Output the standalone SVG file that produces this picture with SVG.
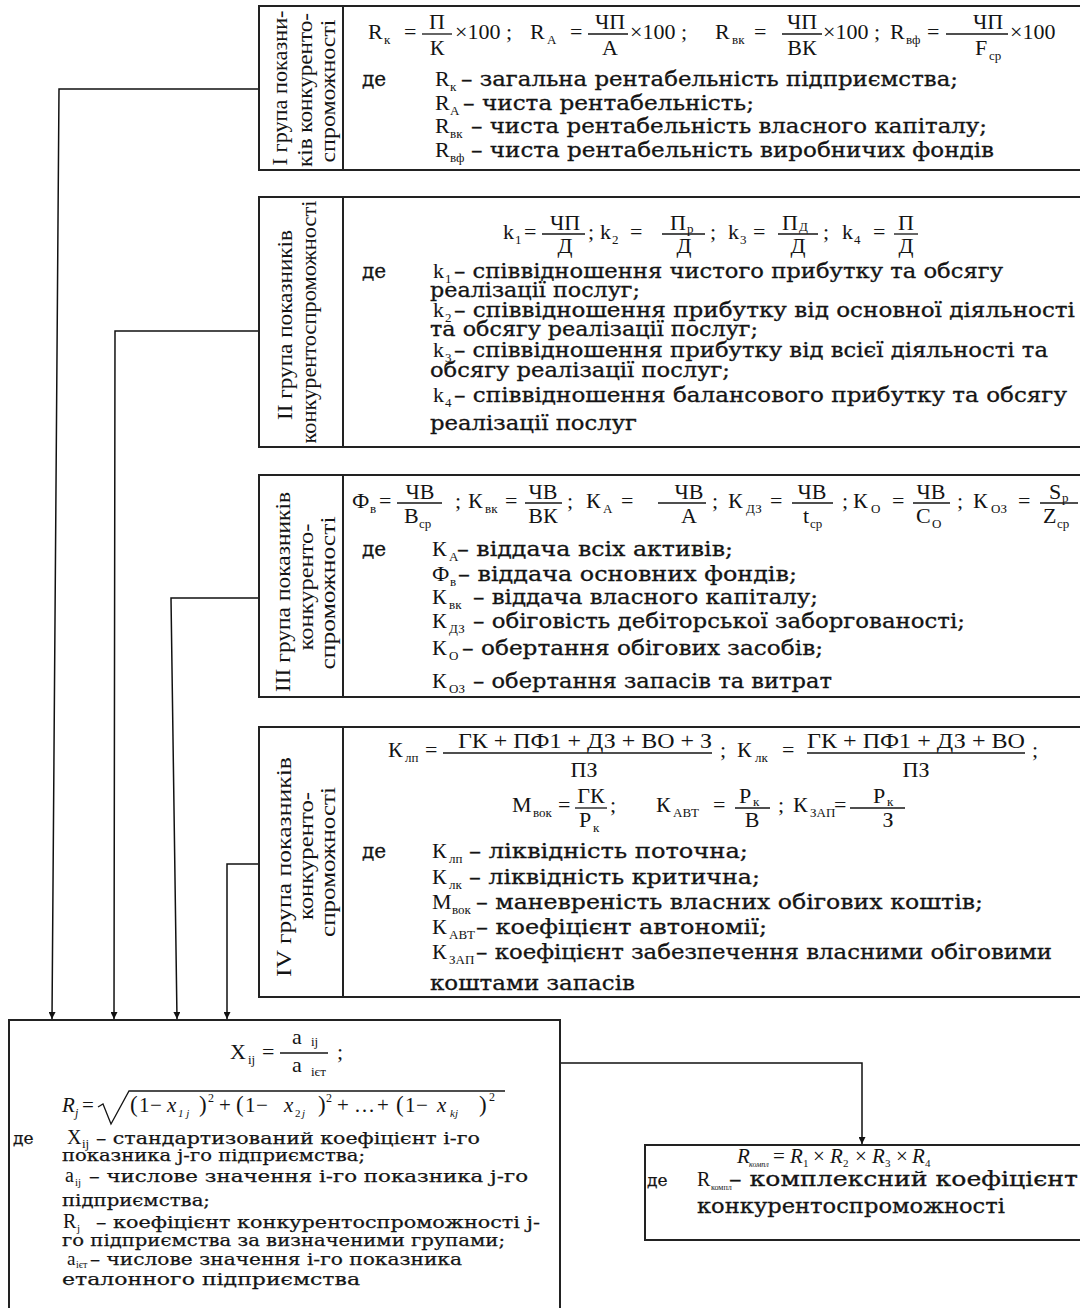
<svg xmlns="http://www.w3.org/2000/svg" width="1080" height="1308" viewBox="0 0 1080 1308">
<style>
.t{font-family:"Liberation Serif","Times New Roman",serif;fill:#141414}
.m{font-size:22px}
.ms{font-size:13px}
.d{font-family:"DejaVu Serif","Liberation Serif",serif;font-size:20px;stroke:#141414;stroke-width:0.3}
.v{font-size:21px}
.e{font-family:"DejaVu Serif","Liberation Serif",serif;font-size:17px;stroke:#141414;stroke-width:0.25}
.it{font-style:italic}
.box{fill:#fff;stroke:#222;stroke-width:2}
.div{stroke:#222;stroke-width:2}
.bar{stroke:#141414;stroke-width:1.3}
.ln{fill:none;stroke:#111;stroke-width:1.5}
</style>
<defs>
<marker id="arr" viewBox="0 0 10 10" refX="10" refY="5" markerWidth="9" markerHeight="7" markerUnits="userSpaceOnUse" orient="auto">
<path d="M0,0 L10,5 L0,10 z" fill="#111"/>
</marker>
</defs>
<rect width="1080" height="1308" fill="#fff"/>

<g id="connectors">
<path class="ln" d="M259,89 H59 L52,1019" marker-end="url(#arr)"/>
<path class="ln" d="M259,331 H115 L114,1019" marker-end="url(#arr)"/>
<path class="ln" d="M259,598 H171 L177,1019" marker-end="url(#arr)"/>
<path class="ln" d="M259,864 H227 V1019" marker-end="url(#arr)"/>
<path class="ln" d="M560,1063 H862 V1144" marker-end="url(#arr)"/>
</g>

<g id="group1">
<rect class="box" x="259" y="6" width="830" height="164"/>
<line class="div" x1="343" y1="6" x2="343" y2="170"/>
<text class="t v" transform="translate(287,88) rotate(-90)" text-anchor="middle" textLength="155" lengthAdjust="spacingAndGlyphs">І група показни-</text>
<text class="t v" transform="translate(312,90) rotate(-90)" text-anchor="middle" textLength="154" lengthAdjust="spacingAndGlyphs">ків конкуренто-</text>
<text class="t v" transform="translate(335,91) rotate(-90)" text-anchor="middle" textLength="143" lengthAdjust="spacingAndGlyphs">спроможності</text>
<text class="t m" x="368" y="39">R</text><text class="t ms" x="384" y="44">к</text>
<text class="t m" x="404" y="39">=</text>
<line class="bar" x1="422" y1="34" x2="452" y2="34"/>
<text class="t m" x="437" y="29" text-anchor="middle">П</text>
<text class="t m" x="437" y="55" text-anchor="middle">К</text>
<text class="t m" x="455" y="39">×100 ;</text>
<text class="t m" x="530" y="39">R</text><text class="t ms" x="547" y="44">А</text>
<text class="t m" x="570" y="39">=</text>
<line class="bar" x1="588" y1="34" x2="628" y2="34"/>
<text class="t m" x="610" y="29" text-anchor="middle">ЧП</text>
<text class="t m" x="610" y="55" text-anchor="middle">А</text>
<text class="t m" x="630" y="39">×100 ;</text>
<text class="t m" x="715" y="39">R</text><text class="t ms" x="732" y="44">вк</text>
<text class="t m" x="754" y="39">=</text>
<line class="bar" x1="782" y1="34" x2="822" y2="34"/>
<text class="t m" x="802" y="29" text-anchor="middle">ЧП</text>
<text class="t m" x="802" y="55" text-anchor="middle">ВК</text>
<text class="t m" x="823" y="39">×100 ;</text>
<text class="t m" x="890" y="39">R</text><text class="t ms" x="906" y="44">вф</text>
<text class="t m" x="927" y="39">=</text>
<line class="bar" x1="946" y1="34" x2="1008" y2="34"/>
<text class="t m" x="988" y="29" text-anchor="middle">ЧП</text>
<text class="t m" x="975" y="55">F</text><text class="t ms" x="989" y="60">ср</text>
<text class="t m" x="1010" y="39">×100</text>
<text class="t d" x="362" y="86">де</text>
<text class="t m" x="435" y="86">R</text><text class="t ms" x="450" y="91">к</text>
<text class="t d" x="461" y="86" textLength="497" lengthAdjust="spacingAndGlyphs">– загальна рентабельність підприємства;</text>
<text class="t m" x="435" y="110">R</text><text class="t ms" x="450" y="115">А</text>
<text class="t d" x="463" y="110" textLength="291" lengthAdjust="spacingAndGlyphs">– чиста рентабельність;</text>
<text class="t m" x="435" y="133">R</text><text class="t ms" x="450" y="138">вк</text>
<text class="t d" x="471" y="133" textLength="516" lengthAdjust="spacingAndGlyphs">– чиста рентабельність власного капіталу;</text>
<text class="t m" x="435" y="157">R</text><text class="t ms" x="450" y="162">вф</text>
<text class="t d" x="471" y="157" textLength="523" lengthAdjust="spacingAndGlyphs">– чиста рентабельність виробничих фондів</text>
</g>

<g id="group2">
<rect class="box" x="259" y="197" width="830" height="250"/>
<line class="div" x1="343" y1="197" x2="343" y2="447"/>
<text class="t v" transform="translate(292,325) rotate(-90)" text-anchor="middle" textLength="190" lengthAdjust="spacingAndGlyphs">ІІ група показників</text>
<text class="t v" transform="translate(316,322) rotate(-90)" text-anchor="middle" textLength="243" lengthAdjust="spacingAndGlyphs">конкурентоспроможності</text>
<text class="t m" x="503" y="239">k</text><text class="t ms" x="515" y="244">1</text>
<text class="t m" x="524" y="239">=</text>
<line class="bar" x1="542" y1="234" x2="585" y2="234"/>
<text class="t m" x="565" y="230" text-anchor="middle">ЧП</text>
<text class="t m" x="565" y="253" text-anchor="middle">Д</text>
<text class="t m" x="588" y="239">;</text>
<text class="t m" x="600" y="239">k</text><text class="t ms" x="612" y="244">2</text>
<text class="t m" x="630" y="239">=</text>
<line class="bar" x1="662" y1="234" x2="705" y2="234"/>
<text class="t m" x="670" y="230">П</text><text class="t ms" x="687" y="233">р</text>
<text class="t m" x="684" y="253" text-anchor="middle">Д</text>
<text class="t m" x="710" y="239">;</text>
<text class="t m" x="728" y="239">k</text><text class="t ms" x="740" y="244">3</text>
<text class="t m" x="753" y="239">=</text>
<line class="bar" x1="778" y1="234" x2="818" y2="234"/>
<text class="t m" x="782" y="230">П</text><text class="t ms" x="799" y="231">Д</text>
<text class="t m" x="798" y="253" text-anchor="middle">Д</text>
<text class="t m" x="823" y="239">;</text>
<text class="t m" x="842" y="239">k</text><text class="t ms" x="854" y="244">4</text>
<text class="t m" x="873" y="239">=</text>
<line class="bar" x1="894" y1="234" x2="918" y2="234"/>
<text class="t m" x="906" y="230" text-anchor="middle">П</text>
<text class="t m" x="906" y="253" text-anchor="middle">Д</text>
<text class="t d" x="362" y="278">де</text>
<text class="t m" x="433" y="278">k</text><text class="t ms" x="445" y="283">1</text>
<text class="t d" x="454" y="278" textLength="549" lengthAdjust="spacingAndGlyphs">– співвідношення чистого прибутку та обсягу</text>
<text class="t d" x="430" y="297" textLength="210" lengthAdjust="spacingAndGlyphs">реалізації послуг;</text>
<text class="t m" x="433" y="317">k</text><text class="t ms" x="445" y="322">2</text>
<text class="t d" x="454" y="317" textLength="621" lengthAdjust="spacingAndGlyphs">– співвідношення прибутку від основної діяльності</text>
<text class="t d" x="430" y="336" textLength="328" lengthAdjust="spacingAndGlyphs">та обсягу реалізації послуг;</text>
<text class="t m" x="433" y="357">k</text><text class="t ms" x="445" y="362">3</text>
<text class="t d" x="454" y="357" textLength="594" lengthAdjust="spacingAndGlyphs">– співвідношення прибутку від всієї діяльності та</text>
<text class="t d" x="430" y="377" textLength="300" lengthAdjust="spacingAndGlyphs">обсягу реалізації послуг;</text>
<text class="t m" x="433" y="402">k</text><text class="t ms" x="445" y="407">4</text>
<text class="t d" x="454" y="402" textLength="613" lengthAdjust="spacingAndGlyphs">– співвідношення балансового прибутку та обсягу</text>
<text class="t d" x="430" y="430" textLength="207" lengthAdjust="spacingAndGlyphs">реалізації послуг</text>
</g>

<g id="group3">
<rect class="box" x="259" y="475" width="830" height="222"/>
<line class="div" x1="343" y1="475" x2="343" y2="697"/>
<text class="t v" transform="translate(290,592) rotate(-90)" text-anchor="middle" textLength="200" lengthAdjust="spacingAndGlyphs">ІІІ група показників</text>
<text class="t v" transform="translate(313,587) rotate(-90)" text-anchor="middle" textLength="127" lengthAdjust="spacingAndGlyphs">конкуренто-</text>
<text class="t v" transform="translate(335,593) rotate(-90)" text-anchor="middle" textLength="153" lengthAdjust="spacingAndGlyphs">спроможності</text>
<text class="t m" x="352" y="508">Ф</text><text class="t ms" x="370" y="513">в</text>
<text class="t m" x="379" y="508">=</text>
<line class="bar" x1="397" y1="503" x2="442" y2="503"/>
<text class="t m" x="420" y="499" text-anchor="middle">ЧВ</text>
<text class="t m" x="404" y="523">В</text><text class="t ms" x="419" y="528">ср</text>
<text class="t m" x="455" y="508">;</text>
<text class="t m" x="468" y="508">К</text><text class="t ms" x="485" y="513">вк</text>
<text class="t m" x="505" y="508">=</text>
<line class="bar" x1="525" y1="503" x2="562" y2="503"/>
<text class="t m" x="543" y="499" text-anchor="middle">ЧВ</text>
<text class="t m" x="543" y="523" text-anchor="middle">ВК</text>
<text class="t m" x="567" y="508">;</text>
<text class="t m" x="586" y="508">К</text><text class="t ms" x="603" y="513">А</text>
<text class="t m" x="621" y="508">=</text>
<line class="bar" x1="658" y1="503" x2="706" y2="503"/>
<text class="t m" x="689" y="499" text-anchor="middle">ЧВ</text>
<text class="t m" x="689" y="523" text-anchor="middle">А</text>
<text class="t m" x="712" y="508">;</text>
<text class="t m" x="728" y="508">К</text><text class="t ms" x="746" y="513">ДЗ</text>
<text class="t m" x="770" y="508">=</text>
<line class="bar" x1="792" y1="503" x2="833" y2="503"/>
<text class="t m" x="812" y="499" text-anchor="middle">ЧВ</text>
<text class="t m" x="803" y="523">t</text><text class="t ms" x="810" y="528">ср</text>
<text class="t m" x="842" y="508">;</text>
<text class="t m" x="853" y="508">К</text><text class="t ms" x="871" y="513">О</text>
<text class="t m" x="892" y="508">=</text>
<line class="bar" x1="913" y1="503" x2="950" y2="503"/>
<text class="t m" x="931" y="499" text-anchor="middle">ЧВ</text>
<text class="t m" x="916" y="523">С</text><text class="t ms" x="932" y="528">О</text>
<text class="t m" x="957" y="508">;</text>
<text class="t m" x="973" y="508">К</text><text class="t ms" x="991" y="513">ОЗ</text>
<text class="t m" x="1018" y="508">=</text>
<line class="bar" x1="1040" y1="503" x2="1078" y2="503"/>
<text class="t m" x="1049" y="499">S</text><text class="t ms" x="1062" y="502">р</text>
<text class="t m" x="1043" y="523">Z</text><text class="t ms" x="1057" y="528">ср</text>
<text class="t d" x="362" y="556">де</text>
<text class="t m" x="432" y="556">К</text><text class="t ms" x="449" y="561">А</text>
<text class="t d" x="457" y="556" textLength="276" lengthAdjust="spacingAndGlyphs">– віддача всіх активів;</text>
<text class="t m" x="432" y="581">Ф</text><text class="t ms" x="450" y="586">в</text>
<text class="t d" x="458" y="581" textLength="339" lengthAdjust="spacingAndGlyphs">– віддача основних фондів;</text>
<text class="t m" x="432" y="604">К</text><text class="t ms" x="449" y="609">вк</text>
<text class="t d" x="473" y="604" textLength="345" lengthAdjust="spacingAndGlyphs">– віддача власного капіталу;</text>
<text class="t m" x="432" y="628">К</text><text class="t ms" x="449" y="633">ДЗ</text>
<text class="t d" x="473" y="628" textLength="492" lengthAdjust="spacingAndGlyphs">– обіговість дебіторської заборгованості;</text>
<text class="t m" x="432" y="655">К</text><text class="t ms" x="449" y="660">О</text>
<text class="t d" x="462" y="655" textLength="361" lengthAdjust="spacingAndGlyphs">– обертання обігових засобів;</text>
<text class="t m" x="432" y="688">К</text><text class="t ms" x="449" y="693">ОЗ</text>
<text class="t d" x="473" y="688" textLength="359" lengthAdjust="spacingAndGlyphs">– обертання запасів та витрат</text>
</g>

<g id="group4">
<rect class="box" x="259" y="727" width="830" height="270"/>
<line class="div" x1="343" y1="727" x2="343" y2="997"/>
<text class="t v" transform="translate(291,867) rotate(-90)" text-anchor="middle" textLength="220" lengthAdjust="spacingAndGlyphs">IV група показників</text>
<text class="t v" transform="translate(313,856) rotate(-90)" text-anchor="middle" textLength="128" lengthAdjust="spacingAndGlyphs">конкуренто-</text>
<text class="t v" transform="translate(335,862) rotate(-90)" text-anchor="middle" textLength="150" lengthAdjust="spacingAndGlyphs">спроможності</text>
<text class="t m" x="388" y="757">К</text><text class="t ms" x="405" y="762">лп</text>
<text class="t m" x="425" y="757">=</text>
<line class="bar" x1="443" y1="753" x2="712" y2="753"/>
<text class="t m" x="458" y="748" textLength="254" lengthAdjust="spacingAndGlyphs">ГК + ПФ1 + ДЗ + ВО + З</text>
<text class="t m" x="584" y="777" text-anchor="middle">ПЗ</text>
<text class="t m" x="720" y="757">;</text>
<text class="t m" x="737" y="757">К</text><text class="t ms" x="755" y="762">лк</text>
<text class="t m" x="782" y="757">=</text>
<line class="bar" x1="807" y1="753" x2="1025" y2="753"/>
<text class="t m" x="807" y="748" textLength="218" lengthAdjust="spacingAndGlyphs">ГК + ПФ1 + ДЗ + ВО</text>
<text class="t m" x="916" y="777" text-anchor="middle">ПЗ</text>
<text class="t m" x="1032" y="757">;</text>
<text class="t m" x="512" y="812">М</text><text class="t ms" x="533" y="817">вок</text>
<text class="t m" x="558" y="812">=</text>
<line class="bar" x1="575" y1="808" x2="607" y2="808"/>
<text class="t m" x="591" y="803" text-anchor="middle">ГК</text>
<text class="t m" x="579" y="827">Р</text><text class="t ms" x="593" y="832">к</text>
<text class="t m" x="610" y="812">;</text>
<text class="t m" x="656" y="812">К</text><text class="t ms" x="673" y="817">АВТ</text>
<text class="t m" x="713" y="812">=</text>
<line class="bar" x1="735" y1="808" x2="770" y2="808"/>
<text class="t m" x="739" y="803">Р</text><text class="t ms" x="753" y="806">к</text>
<text class="t m" x="752" y="827" text-anchor="middle">В</text>
<text class="t m" x="778" y="812">;</text>
<text class="t m" x="793" y="812">К</text><text class="t ms" x="810" y="817">ЗАП</text>
<text class="t m" x="834" y="812">=</text>
<line class="bar" x1="850" y1="808" x2="905" y2="808"/>
<text class="t m" x="873" y="803">Р</text><text class="t ms" x="887" y="806">к</text>
<text class="t m" x="888" y="827" text-anchor="middle">З</text>
<text class="t d" x="362" y="858">де</text>
<text class="t m" x="432" y="858">К</text><text class="t ms" x="449" y="863">лп</text>
<text class="t d" x="469" y="858" textLength="279" lengthAdjust="spacingAndGlyphs">– ліквідність поточна;</text>
<text class="t m" x="432" y="884">К</text><text class="t ms" x="449" y="889">лк</text>
<text class="t d" x="469" y="884" textLength="291" lengthAdjust="spacingAndGlyphs">– ліквідність критична;</text>
<text class="t m" x="432" y="909">М</text><text class="t ms" x="452" y="914">вок</text>
<text class="t d" x="476" y="909" textLength="507" lengthAdjust="spacingAndGlyphs">– маневреність власних обігових коштів;</text>
<text class="t m" x="432" y="934">К</text><text class="t ms" x="449" y="939">АВТ</text>
<text class="t d" x="476" y="934" textLength="291" lengthAdjust="spacingAndGlyphs">– коефіцієнт автономії;</text>
<text class="t m" x="432" y="959">К</text><text class="t ms" x="449" y="964">ЗАП</text>
<text class="t d" x="476" y="959" textLength="576" lengthAdjust="spacingAndGlyphs">– коефіцієнт забезпечення власними обіговими</text>
<text class="t d" x="430" y="990" textLength="205" lengthAdjust="spacingAndGlyphs">коштами запасів</text>
</g>

<g id="standardization">
<rect class="box" x="9" y="1020" width="551" height="300"/>
<text class="t m" x="230" y="1059">X</text><text class="t ms" x="248" y="1064">ij</text>
<text class="t m" x="262" y="1059">=</text>
<line class="bar" x1="280" y1="1053" x2="328" y2="1053"/>
<text class="t m" x="292" y="1044">a</text><text class="t ms" x="311" y="1046">ij</text>
<text class="t m" x="292" y="1072">a</text><text class="t ms" x="311" y="1076">ієт</text>
<text class="t m" x="337" y="1059">;</text>
<text class="t" font-size="21" y="1112"><tspan x="62" class="it">R</tspan><tspan x="75" y="1117" font-size="12" class="it">j</tspan><tspan x="82" y="1112">=</tspan></text>
<path d="M98,1107 L103,1104 L111,1124 L129,1091 H505" fill="none" stroke="#141414" stroke-width="1.3"/>
<text class="t" font-size="21" y="1112">
<tspan x="130" font-size="23">(</tspan><tspan x="139">1</tspan><tspan x="150">−</tspan><tspan x="167" class="it">x</tspan><tspan x="178" y="1117" font-size="11" class="it">1 j</tspan><tspan x="199" y="1112" font-size="23">)</tspan><tspan x="208" y="1102" font-size="12">2</tspan>
<tspan x="219" y="1112">+</tspan><tspan x="236" font-size="23">(</tspan><tspan x="245">1</tspan><tspan x="256">−</tspan><tspan x="284" class="it">x</tspan><tspan x="295" y="1117" font-size="11">2</tspan><tspan x="302" y="1117" font-size="11" class="it">j</tspan><tspan x="318" y="1112" font-size="23">)</tspan><tspan x="326" y="1102" font-size="12">2</tspan>
<tspan x="337" y="1112">+</tspan><tspan x="354">…</tspan><tspan x="377">+</tspan><tspan x="396" font-size="23">(</tspan><tspan x="405">1</tspan><tspan x="416">−</tspan><tspan x="437" class="it">x</tspan><tspan x="450" y="1117" font-size="11" class="it">kj</tspan><tspan x="479" y="1112" font-size="23">)</tspan><tspan x="489" y="1101" font-size="12">2</tspan>
</text>
<text class="t e" x="13" y="1144">де</text>
<text class="t" font-size="20" x="67" y="1144">X</text><text class="t ms" x="82" y="1148" font-size="11">ij</text>
<text class="t e" x="96" y="1144" textLength="384" lengthAdjust="spacingAndGlyphs">– стандартизований  коефіцієнт  і-го</text>
<text class="t e" x="62" y="1161" textLength="303" lengthAdjust="spacingAndGlyphs">показника j-го підприємства;</text>
<text class="t" font-size="20" x="65" y="1182">a</text><text class="t" font-size="11" x="75" y="1186">ij</text>
<text class="t e" x="89" y="1182" textLength="439" lengthAdjust="spacingAndGlyphs">– числове значення  і-го показника     j-го</text>
<text class="t e" x="62" y="1206" textLength="148" lengthAdjust="spacingAndGlyphs">підприємства;</text>
<text class="t" font-size="20" x="63" y="1228">R</text><text class="t" font-size="11" x="77" y="1232">j</text>
<text class="t e" x="96" y="1228" textLength="444" lengthAdjust="spacingAndGlyphs">– коефіцієнт  конкурентоспроможності  j-</text>
<text class="t e" x="62" y="1246" textLength="443" lengthAdjust="spacingAndGlyphs">го підприємства за визначеними групами;</text>
<text class="t" font-size="19" x="67" y="1265">a</text><text class="t" font-size="10" x="76" y="1268">ієт</text>
<text class="t e" x="90" y="1265" textLength="372" lengthAdjust="spacingAndGlyphs">– числове значення і-го показника</text>
<text class="t e" x="62" y="1285" textLength="298" lengthAdjust="spacingAndGlyphs">еталонного підприємства</text>
</g>

<g id="complex">
<rect class="box" x="645" y="1145" width="445" height="95"/>
<text class="t it" font-size="21" y="1163"><tspan x="737">R</tspan><tspan x="749" y="1167" font-size="8">компл</tspan><tspan x="773" y="1163" font-style="normal">=</tspan><tspan x="790">R</tspan><tspan x="803" y="1167" font-size="11" font-style="normal">1</tspan><tspan x="813" y="1163" font-style="normal">×</tspan><tspan x="830">R</tspan><tspan x="843" y="1167" font-size="11" font-style="normal">2</tspan><tspan x="855" y="1163" font-style="normal">×</tspan><tspan x="872">R</tspan><tspan x="885" y="1167" font-size="11" font-style="normal">3</tspan><tspan x="896" y="1163" font-style="normal">×</tspan><tspan x="912">R</tspan><tspan x="925" y="1167" font-size="11" font-style="normal">4</tspan></text>
<text class="t e" font-size="19" x="647" y="1186">де</text>
<text class="t" font-size="20" x="697" y="1186">R</text><text class="t" font-size="8" x="711" y="1190">компл</text>
<text class="t d" font-size="19" x="729" y="1186" textLength="349" lengthAdjust="spacingAndGlyphs">– комплексний коефіцієнт</text>
<text class="t d" font-size="19" x="697" y="1213" textLength="308" lengthAdjust="spacingAndGlyphs">конкурентоспроможності</text>
</g>
</svg>
